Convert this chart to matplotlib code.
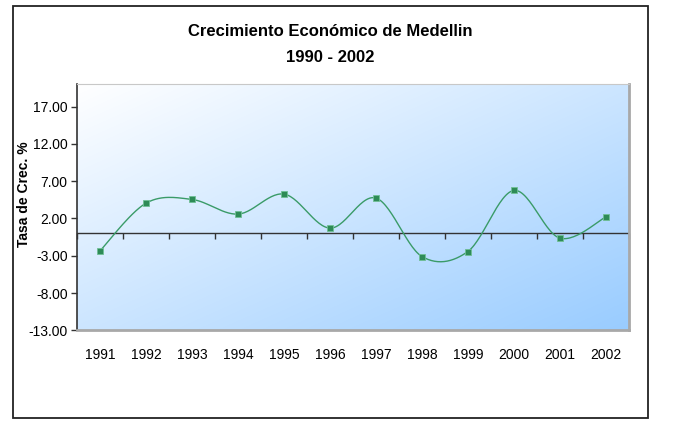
import numpy as np
import matplotlib
matplotlib.use("Agg")
from matplotlib import pyplot as plt
from matplotlib.patches import Rectangle

plt.rcParams['font.family'] = ['Liberation Sans', 'DejaVu Sans']

years = ['1991', '1992', '1993', '1994', '1995', '1996',
         '1997', '1998', '1999', '2000', '2001', '2002']
growth = [-2.30, 4.07, 4.55, 2.59, 5.27, 0.71,
          4.74, -3.10, -2.43, 5.76, -0.63, 2.19]
y_ticks = [-13, -8, -3, 2, 7, 12, 17]

W, H = 677, 421


def smooth_curve(xs, ys, steps=30):
    # catmull-rom style bezier through every point (like the office "smoothed line")
    pts = np.column_stack([xs, ys]).astype(float)
    ext = np.vstack([pts[0], pts, pts[-1]])
    out = []
    t = np.linspace(0, 1, steps)[:, None]
    for i in range(1, len(ext) - 2):
        p0, p1, p2, p3 = ext[i - 1], ext[i], ext[i + 1], ext[i + 2]
        c1 = p1 + (p2 - p0) / 6.0
        c2 = p2 - (p3 - p1) / 6.0
        seg = ((1 - t) ** 3) * p1 + 3 * ((1 - t) ** 2) * t * c1 \
            + 3 * (1 - t) * t ** 2 * c2 + t ** 3 * p2
        out.append(seg if i == 1 else seg[1:])
    out = np.vstack(out)
    return out[:, 0], out[:, 1]


fig = plt.figure(figsize=(W / 100, H / 100), dpi=100)

# outer chart border
fig.patches.append(Rectangle((13 / W, (H - 418) / H), 635 / W, 412 / H,
                             transform=fig.transFigure, fill=False,
                             edgecolor='#222222', linewidth=1.3))

left, top, right, bottom = 77.3, 84.3, 628.7, 330.3
ax = fig.add_axes([left / W, (H - bottom) / H, (right - left) / W, (bottom - top) / H])

ymin, ymax = -13, 20
x = np.arange(1, len(years) + 1)
ax.set_xlim(0.5, len(years) + 0.5)
ax.set_ylim(ymin, ymax)

# diagonal gradient white -> light blue
n = 200
gx, gy = np.meshgrid(np.linspace(0, 1, n), np.linspace(0, 1, n))
g = np.clip((gx + gy) / 2.0, 0, 1)
c0 = np.array([1.0, 1.0, 1.0])
c1 = np.array([0.60, 0.80, 1.0])
img = c0[None, None, :] * (1 - g[..., None]) + c1[None, None, :] * g[..., None]
ax.imshow(img, extent=[0, 1, 0, 1], transform=ax.transAxes, aspect='auto',
          zorder=0, interpolation='bilinear')

sx, sy = smooth_curve(x, growth)
ax.plot(sx, sy, color='#3a9b68', linewidth=1.0, zorder=3)
ax.plot(x, growth, linestyle='none', marker='s', markersize=5,
        markerfacecolor='#2e8b57', markeredgecolor='#6fbf95',
        markeredgewidth=0.6, zorder=4)

# category axis crossing at zero
ax.axhline(0, color='#333333', linewidth=1.0, zorder=2)
zero_pos = (0 - ymin) / (ymax - ymin)
sec = ax.secondary_xaxis(zero_pos)
sec.set_xticks(np.arange(0.5, len(years) + 1, 1.0))
sec.tick_params(direction='out', length=4, width=1, color='#333333', labelbottom=False)
sec.spines['bottom'].set_visible(False)

ax.set_xticks(x)
ax.set_xticklabels(years, fontsize=10)
ax.tick_params(axis='x', length=0, pad=13)

ax.set_yticks(y_ticks)
ax.set_yticklabels(['%.2f' % v for v in y_ticks], fontsize=10)
ax.tick_params(axis='y', direction='out', length=4, width=1, color='#333333', pad=3)

ax.spines['left'].set_color('#333333')
ax.spines['left'].set_linewidth(1.2)
ax.spines['top'].set_color('#c8c8c8')
ax.spines['right'].set_color('#a8a8a8')
ax.spines['right'].set_linewidth(2)
ax.spines['bottom'].set_color('#a8a8a8')
ax.spines['bottom'].set_linewidth(2)

fig.text(0.5 * (13 + 648) / W, 1 - 32 / H, 'Crecimiento Económico de Medellin',
         ha='center', va='center', fontsize=12, fontweight='bold')
fig.text(0.5 * (13 + 648) / W, 1 - 58 / H, '1990 - 2002',
         ha='center', va='center', fontsize=12, fontweight='bold')
fig.text(24 / W, 1 - 194 / H, 'Tasa de Crec. %', rotation=90,
         ha='center', va='center', fontsize=10, fontweight='bold')

fig.savefig('out.png', dpi=100)
